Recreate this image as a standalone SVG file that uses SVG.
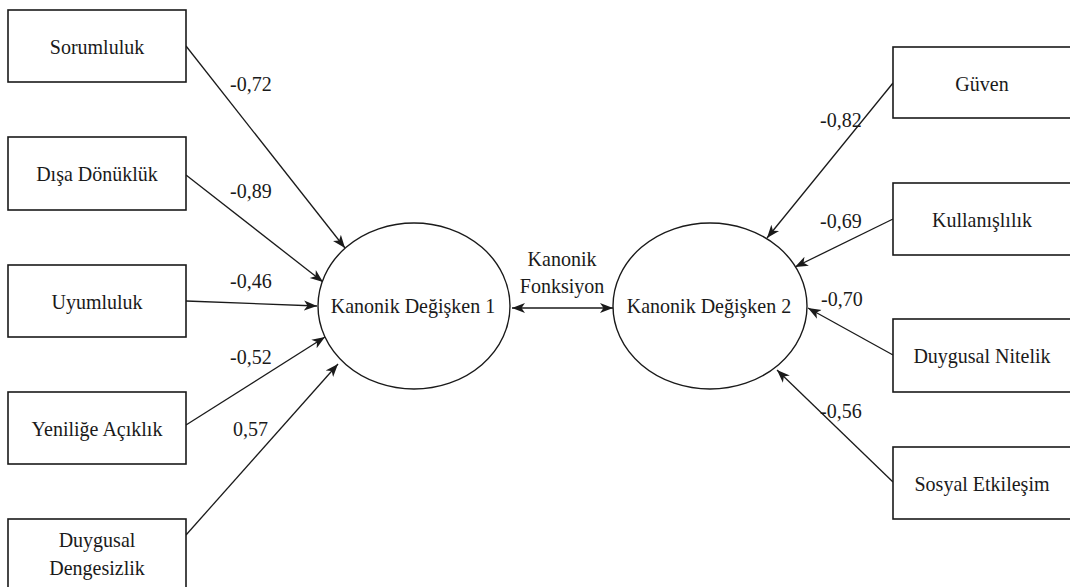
<svg xmlns="http://www.w3.org/2000/svg" width="1070" height="587" viewBox="0 0 1070 587">
  <style>
    .box { fill: #ffffff; stroke: #1a1a1a; stroke-width: 1.6; }
    .ell { fill: #ffffff; stroke: #1a1a1a; stroke-width: 1.4; }
    .lbl { font-family: 'Liberation Serif', 'DejaVu Serif', serif; font-size: 22px; fill: #1a1a1a; }
    .mid { text-anchor: middle; }
    .edge { fill: none; stroke: #1a1a1a; stroke-width: 1.3; }
  </style>
  <defs>
    <marker id="arrow" markerUnits="userSpaceOnUse" markerWidth="14" markerHeight="12" viewBox="0 0 14 12" refX="13" refY="6" orient="auto-start-reverse">
      <path d="M0,1 L13,6 L0,11 L3.5,6 Z" fill="#1a1a1a"/>
    </marker>
  </defs>
  <rect width="1070" height="587" fill="#ffffff"/>

  <!-- connectors; text is set slightly narrow (scale 0.91 horizontally) -->
  <g id="connectors">
    <line class="edge" x1="186" y1="46" x2="345" y2="248" marker-end="url(#arrow)"/>
    <line class="edge" x1="186" y1="175" x2="323" y2="282" marker-end="url(#arrow)"/>
    <line class="edge" x1="186" y1="301" x2="317" y2="306" marker-end="url(#arrow)"/>
    <line class="edge" x1="186" y1="425" x2="325" y2="337" marker-end="url(#arrow)"/>
    <line class="edge" x1="186" y1="535" x2="338" y2="364" marker-end="url(#arrow)"/>
    <line class="edge" x1="512" y1="308" x2="613" y2="308" marker-start="url(#arrow)" marker-end="url(#arrow)"/>
    <line class="edge" x1="893" y1="83" x2="767" y2="238" marker-end="url(#arrow)"/>
    <line class="edge" x1="893" y1="219" x2="795" y2="267" marker-end="url(#arrow)"/>
    <line class="edge" x1="893" y1="355" x2="808" y2="308" marker-end="url(#arrow)"/>
    <line class="edge" x1="893" y1="482" x2="777" y2="370" marker-end="url(#arrow)"/>

    <text class="lbl" transform="translate(230,91) scale(0.91,1)">-0,72</text>
    <text class="lbl" transform="translate(230,198) scale(0.91,1)">-0,89</text>
    <text class="lbl" transform="translate(230,288) scale(0.91,1)">-0,46</text>
    <text class="lbl" transform="translate(230,364) scale(0.91,1)">-0,52</text>
    <text class="lbl" transform="translate(233,436) scale(0.91,1)">0,57</text>
    <text class="lbl mid" transform="translate(562,266) scale(0.91,1)">Kanonik</text>
    <text class="lbl mid" transform="translate(562,293) scale(0.91,1)">Fonksiyon</text>
    <text class="lbl" transform="translate(820,127) scale(0.91,1)">-0,82</text>
    <text class="lbl" transform="translate(820,228) scale(0.91,1)">-0,69</text>
    <text class="lbl" transform="translate(821,306) scale(0.91,1)">-0,70</text>
    <text class="lbl" transform="translate(820,418) scale(0.91,1)">-0,56</text>
  </g>

  <!-- left-hand variable set -->
  <g id="sorumluluk">
    <rect class="box" x="8" y="10" width="178" height="72"/>
    <text class="lbl mid" transform="translate(97,54) scale(0.91,1)">Sorumluluk</text>
  </g>
  <g id="disa-donukluk">
    <rect class="box" x="8" y="137" width="178" height="73"/>
    <text class="lbl mid" transform="translate(97,181) scale(0.91,1)">Dışa Dönüklük</text>
  </g>
  <g id="uyumluluk">
    <rect class="box" x="8" y="265" width="178" height="72"/>
    <text class="lbl mid" transform="translate(97,309) scale(0.91,1)">Uyumluluk</text>
  </g>
  <g id="yenilige-aciklik">
    <rect class="box" x="8" y="392" width="178" height="72"/>
    <text class="lbl mid" transform="translate(97,436) scale(0.91,1)">Yeniliğe Açıklık</text>
  </g>
  <g id="duygusal-dengesizlik">
    <rect class="box" x="8" y="519" width="178" height="80"/>
    <text class="lbl mid" transform="translate(97,547) scale(0.91,1)">Duygusal</text>
    <text class="lbl mid" transform="translate(97,575) scale(0.91,1)">Dengesizlik</text>
  </g>

  <!-- canonical variates -->
  <g id="kanonik-degisken-1">
    <ellipse class="ell" cx="414" cy="306" rx="96" ry="83"/>
    <text class="lbl mid" transform="translate(413,313) scale(0.91,1)">Kanonik Değişken 1</text>
  </g>
  <g id="kanonik-degisken-2">
    <ellipse class="ell" cx="710" cy="306" rx="97" ry="83"/>
    <text class="lbl mid" transform="translate(709,313) scale(0.91,1)">Kanonik Değişken 2</text>
  </g>

  <!-- right-hand variable set -->
  <g id="guven">
    <rect class="box" x="893" y="47" width="180" height="71"/>
    <text class="lbl mid" transform="translate(982,91) scale(0.91,1)">Güven</text>
  </g>
  <g id="kullanislilik">
    <rect class="box" x="893" y="183" width="180" height="72"/>
    <text class="lbl mid" transform="translate(982,227) scale(0.91,1)">Kullanışlılık</text>
  </g>
  <g id="duygusal-nitelik">
    <rect class="box" x="893" y="319" width="180" height="73"/>
    <text class="lbl mid" transform="translate(982,363) scale(0.91,1)">Duygusal Nitelik</text>
  </g>
  <g id="sosyal-etkilesim">
    <rect class="box" x="893" y="447" width="180" height="72"/>
    <text class="lbl mid" transform="translate(982,491) scale(0.91,1)">Sosyal Etkileşim</text>
  </g>
</svg>
